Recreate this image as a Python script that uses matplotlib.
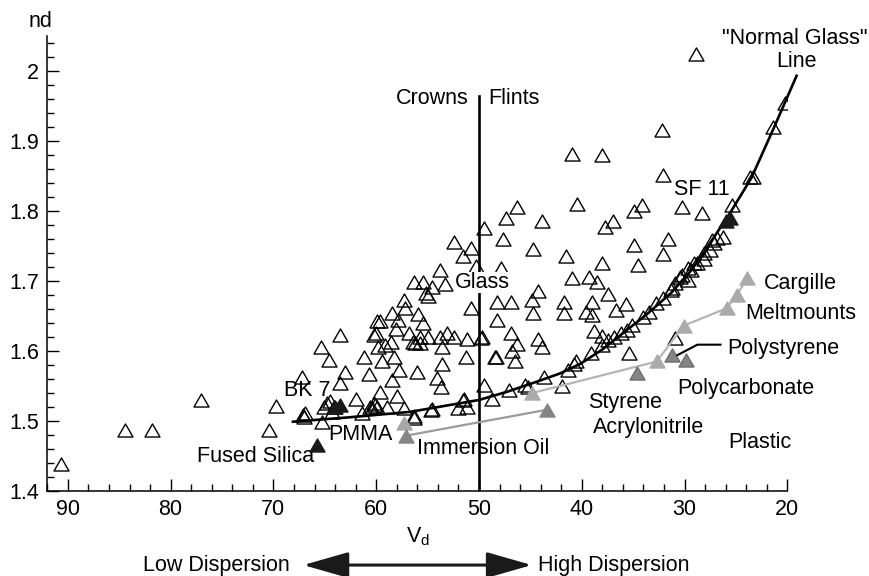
import matplotlib
matplotlib.use('Agg')
import matplotlib.pyplot as plt
from matplotlib.path import Path
from matplotlib.ticker import MultipleLocator, FixedLocator

plt.rcParams['font.family'] = ['Liberation Sans', 'DejaVu Sans']

#-----------------------Data-----------------------------------------------
# open triangles: glasses (Abbe number Vd, refractive index nd)
glass_v = [90.7, 84.4, 81.8, 77.0, 70.4, 69.7,
           67.2, 67.1, 66.9, 67.0, 65.4, 64.6, 63.5, 63.0, 63.5, 62.0, 61.2, 60.7,
           59.6, 59.4, 58.3, 57.8, 58.5, 58.0, 56.0, 54.1, 53.7, 53.6, 51.3, 53.6,
           49.5, 64.8, 65.1, 64.5, 64.3, 64.1, 65.3, 60.2, 60.4, 59.9, 58.9, 57.3,
           54.6, 51.6, 52.0, 51.2, 56.3, 61.4, 60.6, 60.1, 54.7, 56.3, 51.5, 48.7,
           47.1, 45.5, 43.7, 41.9, 40.8,
           60.2, 60.0, 58.1, 56.8, 55.7, 55.0, 53.75, 53.1, 52.45, 51.15, 49.7, 58.6,
           59.1, 56.4, 56.2, 55.7, 59.8, 59.9, 59.6, 57.9, 55.4, 58.5, 57.2, 55.9,
           50.8, 57.3, 55.0, 55.2, 56.3, 55.4, 53.3, 54.6, 53.75, 50.3, 47.9, 51.6,
           50.8, 52.4, 49.5, 47.4, 46.3, 43.85, 47.7, 44.7, 41.5, 40.9, 44.3, 40.9,
           40.5, 48.2, 46.9, 44.8, 44.7, 41.7, 41.7, 48.2, 46.9, 46.3, 46.8, 44.3,
           43.85, 48.4, 48.3, 46.45, 49.85,
           38.0, 32.1, 32.2, 28.9, 34.1, 34.9, 37.0, 37.7, 30.2, 28.3, 34.9, 31.6,
           32.1, 38.0, 34.5, 39.3, 38.5, 37.4, 39.0, 39.6, 39.0, 35.7, 36.7, 38.8,
           38.0, 35.4, 30.9,
           45.2, 41.3, 40.6, 39.1, 38.0, 37.4, 36.9, 36.2, 35.6, 35.1, 34.0, 33.5,
           32.8, 32.1, 31.2, 30.4, 29.7, 29.4, 28.8, 28.1, 27.5, 27.1, 26.8, 26.3,
           25.35, 23.6, 23.3, 21.35, 20.25, 27.3, 28.1, 29.1, 29.7, 30.2, 30.9, 31.35]
glass_nd = [1.439, 1.487, 1.487, 1.530, 1.487, 1.521,
            1.563, 1.509, 1.511, 1.505, 1.605, 1.587, 1.623, 1.570, 1.554, 1.532, 1.591, 1.567,
            1.542, 1.585, 1.592, 1.573, 1.558, 1.535, 1.570, 1.561, 1.549, 1.581, 1.592, 1.605,
            1.551, 1.525, 1.520, 1.528, 1.513, 1.520, 1.499, 1.526, 1.518, 1.520, 1.520, 1.519,
            1.517, 1.530, 1.518, 1.520, 1.507, 1.511, 1.520, 1.523, 1.516, 1.504, 1.532, 1.532,
            1.544, 1.551, 1.563, 1.550, 1.582,
            1.623, 1.625, 1.632, 1.625, 1.620, 1.620, 1.620, 1.625, 1.620, 1.617, 1.620, 1.613,
            1.609, 1.613, 1.611, 1.611, 1.606, 1.643, 1.643, 1.644, 1.640, 1.654, 1.661, 1.653,
            1.661, 1.673, 1.679, 1.683, 1.698, 1.698, 1.696, 1.692, 1.715, 1.722, 1.719, 1.736,
            1.747, 1.756, 1.775, 1.790, 1.805, 1.786, 1.760, 1.745, 1.736, 1.704, 1.685, 1.882,
            1.810, 1.670, 1.670, 1.673, 1.654, 1.670, 1.654, 1.644, 1.626, 1.610, 1.600, 1.617,
            1.606, 1.592, 1.591, 1.585, 1.618,
            1.880, 1.851, 1.916, 2.024, 1.809, 1.800, 1.785, 1.777, 1.805, 1.797, 1.751, 1.760,
            1.738, 1.725, 1.723, 1.706, 1.699, 1.682, 1.670, 1.656, 1.651, 1.667, 1.659, 1.628,
            1.621, 1.597, 1.618,
            1.549, 1.573, 1.585, 1.597, 1.609, 1.616, 1.620, 1.625, 1.630, 1.637, 1.649, 1.656,
            1.668, 1.675, 1.690, 1.706, 1.701, 1.716, 1.725, 1.732, 1.744, 1.754, 1.761, 1.763,
            1.809, 1.849, 1.848, 1.920, 1.954, 1.759, 1.740, 1.725, 1.718, 1.709, 1.697, 1.687]

# "normal glass" line
normal_v = [68.1, 62.8, 56.7, 50.0, 47.2, 44.4, 42.1, 40.1, 38.0, 36.2, 33.7, 31.3, 29.3,
            27.3, 25.7, 23.5, 21.3, 19.1]
normal_nd = [1.499, 1.505, 1.513, 1.530, 1.542, 1.556, 1.568, 1.582, 1.602, 1.623, 1.652, 1.683, 1.716,
             1.759, 1.794, 1.847, 1.919, 1.993]

# named glasses (filled black): Fused Silica, BK 7, SF 11
named_v = [65.8, 64.0, 63.5, 26.0, 25.6]
named_nd = [1.466, 1.520, 1.523, 1.785, 1.790]

# PMMA
pmma_v = [57.3]
pmma_nd = [1.497]

# immersion oil
oil_v = [57.1, 43.4]
oil_nd = [1.479, 1.516]

# Cargille Meltmounts
melt_v = [44.8, 32.7, 30.1, 25.9, 24.9, 23.9]
melt_nd = [1.540, 1.585, 1.636, 1.661, 1.680, 1.704]

# plastics: Styrene Acrylonitrile, Polystyrene, Polycarbonate
plastic_v = [34.6, 31.2, 29.9]
plastic_nd = [1.568, 1.594, 1.587]
#--------------------------------------------------------------------------

# triangle a bit wider than tall, closed so the outline is complete
tri = Path([(-1, -0.87), (1, -0.87), (0, 0.87), (-1, -0.87)], closed=True)
ms = 10.8

fig = plt.figure(figsize=(8.69, 5.76), dpi=100)
ax = fig.add_axes([0.0544, 0.1476, 0.8516, 0.79])

ax.plot(glass_v, glass_nd, linestyle='none', marker=tri, ms=ms, mfc='none', mec='black', mew=1.0, zorder=2)

ax.plot(normal_v, normal_nd, color='black', lw=1.9, zorder=3, clip_on=False)
ax.plot([50, 50], [1.4, 1.964], color='black', lw=1.9, zorder=3)

ax.plot(named_v, named_nd, linestyle='none', marker=tri, ms=ms, mfc='#1a1a1a', mec='#1a1a1a', zorder=4)
ax.plot(pmma_v, pmma_nd, linestyle='none', marker=tri, ms=ms, mfc='#a8a8a8', mec='#a8a8a8', zorder=4)
ax.plot(oil_v, oil_nd, color='#9a9a9a', lw=1.6, marker=tri, ms=ms, mfc='#858585', mec='#858585', zorder=4)
ax.plot(melt_v, melt_nd, color='#b4b4b4', lw=1.6, marker=tri, ms=ms, mfc='#aaaaaa', mec='#aaaaaa', zorder=4)
ax.plot(plastic_v, plastic_nd, linestyle='none', marker=tri, ms=ms, mfc='#858585', mec='#6e6e6e', zorder=4)

# leader line to polystyrene
ax.plot([26.5, 28.75, 30.7], [1.609, 1.609, 1.594], color='black', lw=1.5, zorder=5)

fs = 15.5
ax.text(51.0, 1.961, 'Crowns', fontsize=fs, ha='right', va='center')
ax.text(49.07, 1.961, 'Flints', fontsize=fs, ha='left', va='center')
ax.text(49.7, 1.698, 'Glass', fontsize=fs, ha='center', va='center', zorder=6,
        bbox=dict(facecolor='white', edgecolor='none', pad=0))
ax.text(19.25, 2.047, '"Normal Glass"', fontsize=fs, ha='center', va='center')
ax.text(19.1, 2.014, 'Line', fontsize=fs, ha='center', va='center')
ax.text(31.06, 1.830, 'SF 11', fontsize=fs, ha='left', va='center')
ax.text(69.0, 1.544, 'BK 7', fontsize=fs, ha='left', va='center')
ax.text(77.4, 1.449, 'Fused Silica', fontsize=fs, ha='left', va='center')
ax.text(64.65, 1.481, 'PMMA', fontsize=fs, ha='left', va='center')
ax.text(56.0, 1.461, 'Immersion Oil', fontsize=fs, ha='left', va='center')
ax.text(22.3, 1.696, 'Cargille', fontsize=fs, ha='left', va='center')
ax.text(24.05, 1.654, 'Meltmounts', fontsize=fs, ha='left', va='center')
ax.text(25.8, 1.604, 'Polystyrene', fontsize=fs, ha='left', va='center')
ax.text(30.7, 1.547, 'Polycarbonate', fontsize=fs, ha='left', va='center')
ax.text(39.4, 1.526, 'Styrene', fontsize=fs, ha='left', va='center')
ax.text(38.9, 1.491, 'Acrylonitrile', fontsize=fs, ha='left', va='center')
ax.text(25.7, 1.469, 'Plastic', fontsize=fs, ha='left', va='center')

ax.set_xlim(92, 20)
ax.set_ylim(1.4, 2.05)
ax.xaxis.set_major_locator(FixedLocator([90, 80, 70, 60, 50, 40, 30, 20]))
ax.xaxis.set_minor_locator(MultipleLocator(2))
ax.yaxis.set_major_locator(FixedLocator([1.4, 1.5, 1.6, 1.7, 1.8, 1.9, 2.0]))
ax.set_yticklabels(['1.4', '1.5', '1.6', '1.7', '1.8', '1.9', '2'])
ax.yaxis.set_minor_locator(MultipleLocator(0.02))
ax.tick_params(which='both', direction='in', labelsize=fs, width=1.0)
ax.tick_params(which='major', length=8.5, pad=6)
ax.tick_params(which='minor', length=5)
for side in ['top', 'right']:
    ax.spines[side].set_visible(False)
for side in ['left', 'bottom']:
    ax.spines[side].set_linewidth(1.1)

fig.text(0.047, 0.963, 'nd', fontsize=fs, ha='center', va='center')
fig.text(0.481, 0.068, r'V$_\mathregular{d}$', fontsize=fs, ha='center', va='center')
fig.text(0.334, 0.019, 'Low Dispersion', fontsize=fs, ha='right', va='center')
fig.text(0.619, 0.019, 'High Dispersion', fontsize=fs, ha='left', va='center')
ax.annotate('', xy=(0.349, 0.019), xytext=(0.612, 0.019), xycoords='figure fraction',
            textcoords='figure fraction',
            arrowprops=dict(arrowstyle='<|-|>,head_length=1.4,head_width=0.4', mutation_scale=20,
                            lw=2.2, color='#1a1a1a', shrinkA=0, shrinkB=0))

plt.savefig('out.png', dpi=100)
